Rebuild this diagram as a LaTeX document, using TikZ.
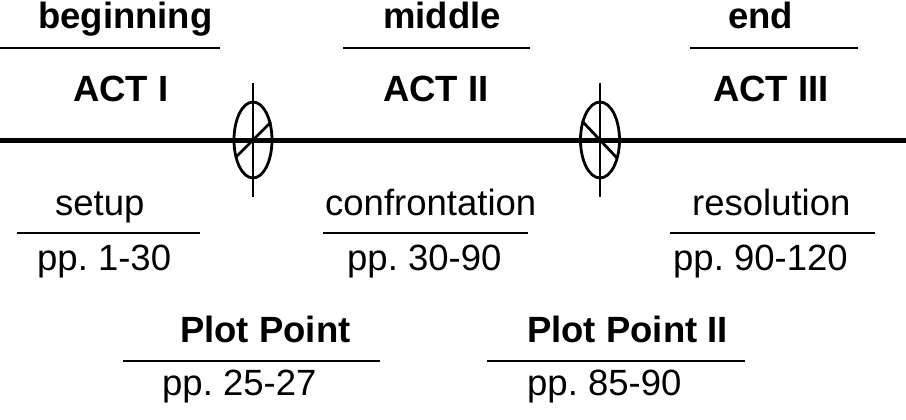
\documentclass[tikz,border=0pt]{standalone}
\usepackage{fontspec}
\setmainfont{Liberation Sans}
\usetikzlibrary{positioning}
\frenchspacing

\begin{document}
\begin{tikzpicture}[x=1pt,y=-1pt,
head/.style={anchor=base west,inner sep=0pt,font=\fontsize{36.5}{40}\selectfont\bfseries},
plain/.style={anchor=base west,inner sep=0pt,font=\fontsize{36.5}{40}\selectfont},
rule/.style={line width=2.8pt},
timeline/.style={line width=5pt},
ppmark/.style={line width=2.8pt}
]
\useasboundingbox (0,0) rectangle (906,420);
% top labels
\node[head] (beg) at (38,29) {beginning};
\node[head] (mid) at (383,29) {middle};
\node[head] (fin) at (728,29) {end};
\draw[rule] (0,48) -- (220,48);
\draw[rule] (343,48) -- (530,48);
\draw[rule] (690,48) -- (858,48);
\node[head] (act1) at (73,102) {ACT I};
\node[head] (act2) at (383,102) {ACT II};
\node[head] (act3) at (713,102) {ACT III};
% the line
\draw[timeline] (0,140) -- (906,140);
% plot points
\coordinate (pp1) at (253,140);
\coordinate (pp2) at (600,140);
\draw[ppmark] (pp1) ellipse [x radius=19,y radius=38];
\draw[ppmark] (253,83) -- (253,197);
\draw[ppmark] (236,157) -- (271,122);
\draw[ppmark] (pp2) ellipse [x radius=19.5,y radius=38];
\draw[ppmark] (600,83) -- (600,197);
\draw[ppmark] (582,121) -- (617,158);
% lower labels
\node[plain] (setup) at (55,215) {setup};
\node[plain] (conf) at (325,215) {confrontation};
\node[plain] (res) at (692,215) {resolution};
\draw[rule] (17,233) -- (200,233);
\draw[rule] (323,233) -- (528,233);
\draw[rule] (670,233) -- (875,233);
\node[plain] (pg1) at (37,270) {pp. 1-30};
\node[plain] (pg2) at (347,270) {pp. 30-90};
\node[plain] (pg3) at (673,270) {pp. 90-120};
\node[head] (pt1) at (180,342) {Plot Point};
\node[head] (pt2) at (527,342) {Plot Point II};
\draw[rule] (123,361) -- (380,361);
\draw[rule] (487,361) -- (745,361);
\node[plain] (pg4) at (162,395) {pp. 25-27};
\node[plain] (pg5) at (527,395) {pp. 85-90};
\end{tikzpicture}
\end{document}
